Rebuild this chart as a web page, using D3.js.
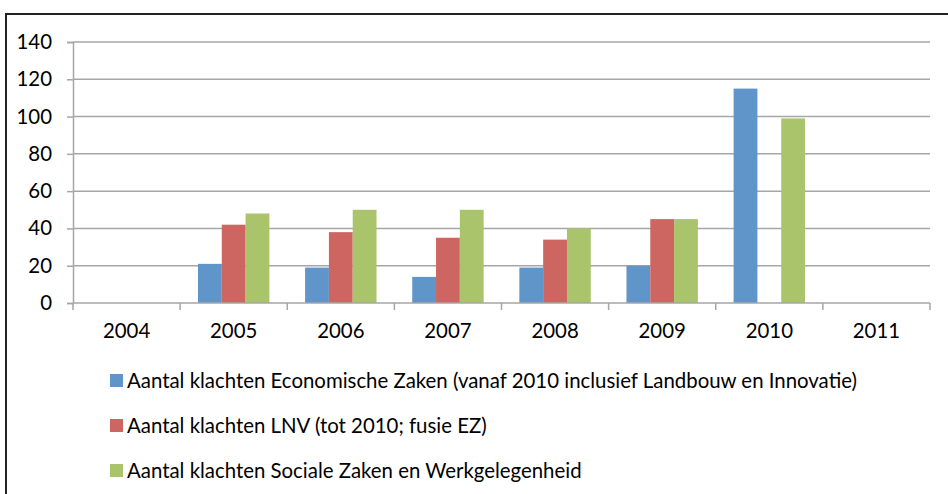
<!DOCTYPE html>
<html>
<head>
<meta charset="utf-8">
<script src="https://cdn.jsdelivr.net/npm/d3@7"></script>
<style>
  html, body { margin: 0; padding: 0; background: #fff; }
  svg { display: block; font-family: Lato, "Noto Sans", sans-serif; }
</style>
</head>
<body>
<div id="chart"></div>
<script>
// Klachten per ministerie, 2004-2011
const years = ["2004", "2005", "2006", "2007", "2008", "2009", "2010", "2011"];
const seriesNames = [
  "Aantal klachten Economische Zaken (vanaf 2010 inclusief Landbouw en Innovatie)",
  "Aantal klachten LNV (tot 2010; fusie EZ)",
  "Aantal klachten Sociale Zaken en Werkgelegenheid",
];
const seriesColors = ["#5f95c8", "#cd6560", "#a9c46a"];
const ezValues   = [null, 21, 19, 14, 19, 20, 115, null];
const lnvValues  = [null, 42, 38, 35, 34, 45, null, null];
const szwValues  = [null, 48, 50, 50, 40, 45, 99, null];
const yTicks = [0, 20, 40, 60, 80, 100, 120, 140];

const seriesValues = [ezValues, lnvValues, szwValues];

const width = 948;
const height = 494;
const plot = { left: 73, right: 930, top: 42, bottom: 303 };
const fontSize = 20.4;

const svg = d3.select("#chart").append("svg")
  .attr("width", width)
  .attr("height", height);

// outer chart frame (right and bottom edges fall outside the crop)
svg.append("rect")
  .attr("x", 6).attr("y", 14)
  .attr("width", 960).attr("height", 500)
  .attr("fill", "none")
  .attr("stroke", "#222")
  .attr("stroke-width", 2);

const x = d3.scaleBand().domain(years).range([plot.left, plot.right]);
const y = d3.scaleLinear().domain([0, 140]).range([plot.bottom, plot.top]);
const inner = d3.scaleBand().domain(d3.range(3))
  .range([0, x.bandwidth()])
  .paddingInner(0)
  .paddingOuter(0.75);

// gridlines
svg.append("g").selectAll("line")
  .data(yTicks.filter((t) => t > 0))
  .join("line")
  .attr("x1", plot.left).attr("x2", plot.right)
  .attr("y1", (d) => y(d)).attr("y2", (d) => y(d))
  .attr("stroke", "#a6a6a6")
  .attr("stroke-width", 1.5);

// bars
seriesValues.forEach((values, s) => {
  svg.append("g").selectAll("rect")
    .data(years.map((yr, i) => ({ yr, v: values[i] })).filter((d) => d.v !== null))
    .join("rect")
    .attr("x", (d) => x(d.yr) + inner(s))
    .attr("y", (d) => y(d.v))
    .attr("width", inner.bandwidth())
    .attr("height", (d) => y(0) - y(d.v))
    .attr("fill", seriesColors[s]);
});

// y axis
const yAxis = svg.append("g")
  .attr("transform", `translate(${plot.left},0)`)
  .call(d3.axisLeft(y).tickValues(yTicks).tickSize(6).tickPadding(15));
yAxis.select(".domain").attr("stroke", "#a6a6a6").attr("stroke-width", 1.5);
yAxis.selectAll(".tick line").attr("stroke", "#a6a6a6").attr("stroke-width", 1.5);
yAxis.selectAll("text")
  .attr("font-size", fontSize)
  .attr("fill", "#000")
  .attr("font-family", "Lato, sans-serif");

// x axis: baseline with ticks at category boundaries
const xg = svg.append("g");
xg.append("line")
  .attr("x1", plot.left).attr("x2", plot.right)
  .attr("y1", plot.bottom).attr("y2", plot.bottom)
  .attr("stroke", "#a6a6a6").attr("stroke-width", 1.5);
xg.selectAll("line.tick")
  .data(years.map((yr) => x(yr)).concat([plot.right]))
  .join("line")
  .attr("class", "tick")
  .attr("x1", (d) => d).attr("x2", (d) => d)
  .attr("y1", plot.bottom).attr("y2", plot.bottom + 7)
  .attr("stroke", "#a6a6a6").attr("stroke-width", 1.5);
xg.selectAll("text")
  .data(years)
  .join("text")
  .attr("x", (d) => x(d) + x.bandwidth() / 2)
  .attr("y", 331)
  .attr("dy", "0.35em")
  .attr("text-anchor", "middle")
  .attr("font-size", fontSize)
  .attr("fill", "#000")
  .text((d) => d);

// legend
const legend = svg.append("g").selectAll("g")
  .data(seriesNames)
  .join("g")
  .attr("transform", (d, i) => `translate(110,${381 + i * 45})`);
legend.append("rect")
  .attr("x", 0).attr("y", -7)
  .attr("width", 13).attr("height", 13)
  .attr("fill", (d, i) => seriesColors[i]);
legend.append("text")
  .attr("x", 17)
  .attr("dy", "0.35em")
  .attr("font-size", fontSize)
  .attr("fill", "#000")
  .text((d) => d);
</script>
</body>
</html>
